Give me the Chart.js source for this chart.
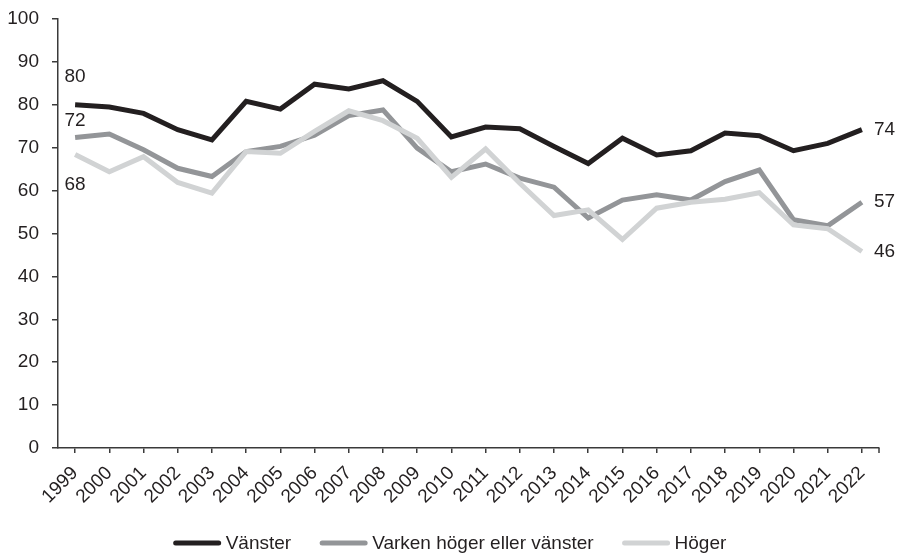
<!DOCTYPE html>
<html>
<head>
<meta charset="utf-8">
<script src="https://cdn.jsdelivr.net/npm/chart.js@4"></script>
<style>
html,body{margin:0;padding:0;background:#fff;}
#wrap{width:900px;height:554px;position:relative;}
</style>
</head>
<body>
<div id="wrap"><canvas id="c" width="900" height="554"></canvas></div>
<script>
const years = ['1999','2000','2001','2002','2003','2004','2005','2006','2007','2008','2009','2010','2011','2012','2013','2014','2015','2016','2017','2018','2019','2020','2021','2022'];
const vanster = [80.0,79.5,78.0,74.2,71.8,80.8,79.0,84.8,83.7,85.6,80.8,72.5,74.8,74.4,70.3,66.3,72.2,68.3,69.3,73.4,72.8,69.3,71.0,74.2];
const varken  = [72.4,73.2,69.5,65.2,63.3,69.1,70.3,72.9,77.5,78.8,69.9,64.4,66.2,62.9,60.8,53.6,57.8,59.0,57.8,62.1,64.8,53.2,51.8,57.3];
const hoger   = [68.4,64.4,67.9,61.9,59.4,69.1,68.7,73.8,78.6,76.3,72.2,63.1,69.7,61.7,54.2,55.5,48.6,55.9,57.3,58.0,59.5,52.0,51.1,45.8];
const seriesNames = ['Vänster','Varken höger eller vänster','Höger'];
const startLabels = ['80','72','68'];
const endLabels = ['74','57','46'];
const yTicks = [0,10,20,30,40,50,60,70,80,90,100];

const colors = ['#231f20','#939598','#d1d3d4'];
const FONT = "'Liberation Sans', Arial, sans-serif";
const AXIS = '#3a3a3a';

Chart.defaults.font.family = FONT;
Chart.defaults.font.size = 19;
Chart.defaults.color = '#231f20';

const labelPlugin = {
  id: 'labelPlugin',
  afterDatasetsDraw(chart) {
    const ctx = chart.ctx;
    const xs = chart.scales.x, ys = chart.scales.y;
    ctx.save();
    ctx.font = '19px ' + FONT;
    ctx.fillStyle = '#231f20';
    const startDy = [-28, -17, 30];
    chart.data.datasets.forEach((ds, i) => {
      const x0 = xs.getPixelForValue(0);
      const y0 = ys.getPixelForValue(ds.data[0]);
      ctx.textAlign = 'center';
      ctx.textBaseline = 'middle';
      ctx.fillText(startLabels[i], x0, y0 + startDy[i]);
      const n = ds.data.length - 1;
      const x1 = xs.getPixelForValue(n);
      const y1 = ys.getPixelForValue(ds.data[n]);
      ctx.textAlign = 'left';
      ctx.fillText(endLabels[i], x1 + 12, y1);
    });
    ctx.strokeStyle = AXIS;
    ctx.lineWidth = 1.5;
    ctx.beginPath();
    ctx.moveTo(chart.chartArea.right, chart.chartArea.bottom);
    ctx.lineTo(chart.chartArea.right, chart.chartArea.bottom + 5);
    ctx.stroke();
    const lineW = 47, gap = 5, spacing = 29;
    const widths = seriesNames.map(s => ctx.measureText(s).width);
    let total = 0;
    widths.forEach((w, i) => { total += lineW + gap + w + (i < widths.length - 1 ? spacing : 0); });
    let x = (chart.width - total) / 2;
    const ly = 543;
    ctx.textAlign = 'left';
    ctx.textBaseline = 'middle';
    seriesNames.forEach((s, i) => {
      ctx.strokeStyle = colors[i];
      ctx.lineWidth = 5;
      ctx.lineCap = 'round';
      ctx.beginPath();
      ctx.moveTo(x + 2, ly);
      ctx.lineTo(x + lineW - 2, ly);
      ctx.stroke();
      ctx.fillStyle = '#231f20';
      ctx.fillText(s, x + lineW + gap, ly + 1);
      x += lineW + gap + widths[i] + spacing;
    });
    ctx.restore();
  }
};

const mk = (label, data, i, order) => ({
  label, data,
  borderColor: colors[i], backgroundColor: colors[i],
  borderWidth: 5, pointRadius: 0, tension: 0, fill: false,
  borderJoinStyle: 'miter', order
});

new Chart(document.getElementById('c'), {
  type: 'line',
  data: {
    labels: years,
    datasets: [
      mk(seriesNames[0], vanster, 0, 0),
      mk(seriesNames[1], varken, 1, 2),
      mk(seriesNames[2], hoger, 2, 1)
    ]
  },
  options: {
    responsive: false,
    animation: false,
    devicePixelRatio: 1,
    layout: { padding: { top: 19, right: 21, left: 0, bottom: 0 } },
    plugins: { legend: { display: false }, tooltip: { enabled: false } },
    scales: {
      x: {
        offset: true,
        grid: { drawOnChartArea: false, drawTicks: true, tickLength: 5, color: AXIS, lineWidth: 1.5, offset: false },
        border: { display: true, color: AXIS, width: 1.5 },
        ticks: { autoSkip: false, maxRotation: 45, minRotation: 45, color: '#231f20', font: { family: FONT, size: 19 }, padding: 9 },
        afterFit(s) { s.height = 106; s.paddingLeft = 0; s.paddingRight = 0; }
      },
      y: {
        min: 0, max: 100,
        afterBuildTicks(s) { s.ticks = yTicks.map(v => ({ value: v })); },
        grid: { drawOnChartArea: false, drawTicks: true, tickLength: 6, color: AXIS, lineWidth: 1.5 },
        border: { display: true, color: AXIS, width: 1.5 },
        ticks: { color: '#231f20', font: { family: FONT, size: 19 }, padding: 13 },
        afterFit(s) { s.width = 58; s.paddingTop = 0; s.paddingBottom = 0; }
      }
    }
  },
  plugins: [labelPlugin]
});
</script>
</body>
</html>
